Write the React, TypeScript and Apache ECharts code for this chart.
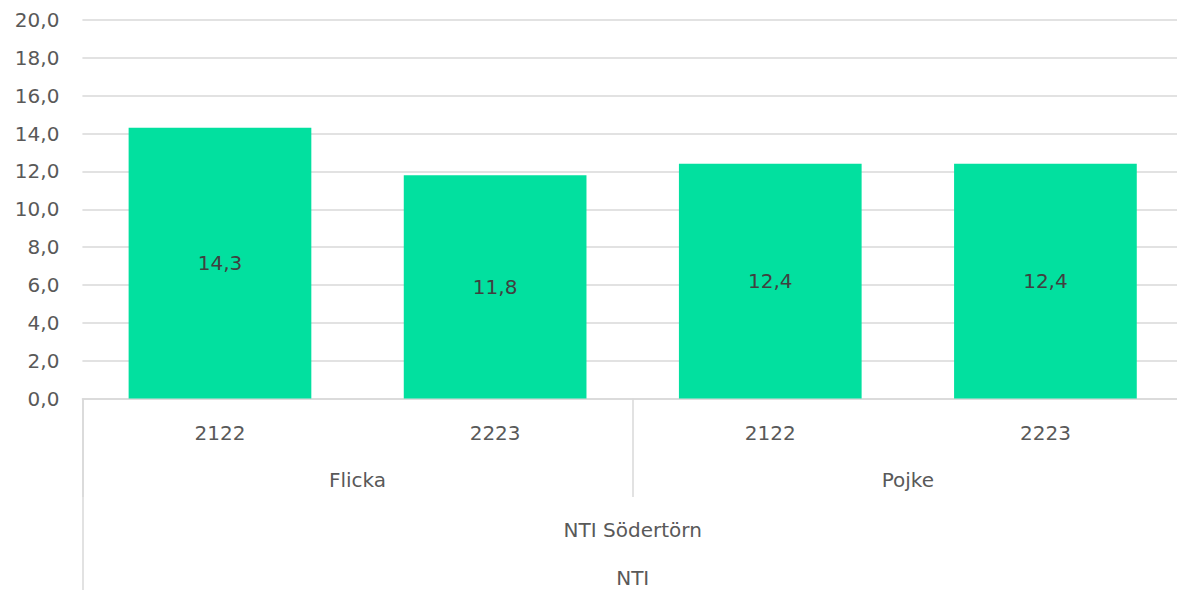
import React, { useEffect, useRef } from "react";
import * as echarts from "echarts";

const years = ["2122", "2223", "2122", "2223"];
const genders = ["Flicka", "Pojke"];
const schools = ["NTI Södertörn"];
const orgs = ["NTI"];
const values = [14.3, 11.8, 12.4, 12.4];

const FONT = "DejaVu Sans";
const FS = 20;
const fmt = (v: number) => v.toFixed(1).replace(".", ",");

export default function App() {
  const ref = useRef<HTMLDivElement>(null);
  useEffect(() => {
    document.body.style.margin = "0";
    document.documentElement.style.overflow = "hidden";
    document.body.style.overflow = "hidden";
    const chart = echarts.init(ref.current!, null, { renderer: "svg" });
    const grey = "#d9d9d9";
    const txt = "#595959";
    chart.setOption({
      animation: false,
      grid: { left: 82.4, right: 7, top: 20, bottom: 191.5, containLabel: false },
      yAxis: {
        type: "value",
        min: 0,
        max: 20,
        interval: 2,
        axisLine: { show: false },
        axisTick: { show: false },
        axisLabel: {
          formatter: (v: number) => fmt(v),
          color: txt,
          fontFamily: FONT,
          fontSize: FS,
          margin: 23,
        },
        splitLine: { lineStyle: { color: grey, width: 1.5 } },
      },
      xAxis: [
        {
          type: "category",
          data: years,
          position: "bottom",
          axisLine: { lineStyle: { color: grey, width: 1.5 } },
          axisTick: { show: false },
          axisLabel: { color: txt, fontFamily: FONT, fontSize: FS, margin: 24 },
        },
        {
          type: "category",
          data: genders,
          position: "bottom",
          axisLine: { show: false },
          axisTick: { show: true, length: 98.5, interval: 0, lineStyle: { color: grey, width: 1.5 } },
          axisLabel: { color: txt, fontFamily: FONT, fontSize: FS, margin: 71.5, interval: 0 },
        },
        {
          type: "category",
          data: schools,
          position: "bottom",
          axisLine: { show: false },
          axisTick: { show: true, length: 195, interval: 0, lineStyle: { color: grey, width: 1.5 } },
          axisLabel: { color: txt, fontFamily: FONT, fontSize: FS, margin: 121.5, interval: 0 },
        },
        {
          type: "category",
          data: orgs,
          position: "bottom",
          axisLine: { show: false },
          axisTick: { show: false },
          axisLabel: { color: txt, fontFamily: FONT, fontSize: FS, margin: 169.5, interval: 0 },
        },
      ],
      series: [
        {
          type: "bar",
          xAxisIndex: 0,
          data: values,
          barWidth: "66.4%",
          itemStyle: { color: "#02E09F" },
          label: {
            show: true,
            position: "inside",
            formatter: (p: any) => fmt(p.value),
            color: "#404040",
            fontFamily: FONT,
            fontSize: FS,
          },
        },
      ],
    });
    return () => chart.dispose();
  }, []);
  return <div ref={ref} style={{ width: 1190, height: 590 }} />;
}
